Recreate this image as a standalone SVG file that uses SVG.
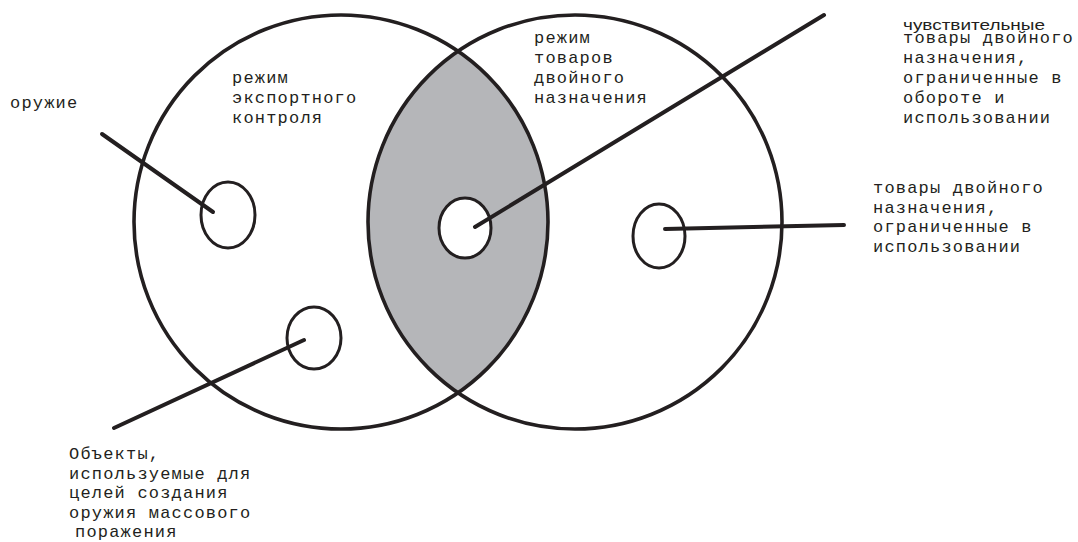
<svg xmlns="http://www.w3.org/2000/svg" width="1078" height="542" viewBox="0 0 1078 542">
<style>
.big{fill:none;stroke:#231f20;stroke-width:3.6}
.small{fill:#ffffff;stroke:#231f20;stroke-width:3}
.lens{fill:#b5b6b9;stroke:none}
.conn{stroke:#231f20;stroke-width:4;stroke-linecap:round;fill:none}
.t{font-family:"Liberation Mono","DejaVu Sans Mono",monospace;font-size:17px;letter-spacing:1.2px;fill:#231f20}
.t2{font-family:"Liberation Sans","DejaVu Sans",sans-serif;font-size:15px;fill:#231f20}
</style>
<rect width="1078" height="542" fill="#ffffff"/>
<g id="lens"><path class="lens" d="M458,51 A207,207 0 0 1 458,393 A207,207 0 0 1 458,51 Z"/></g>
<g id="export-control"><circle class="big" cx="341" cy="222" r="207"/>
<text class="t" x="232" y="83">режим</text><text class="t" x="232" y="103">экспортного</text><text class="t" x="232" y="123">контроля</text></g>
<g id="dual-use"><circle class="big" cx="575" cy="222" r="207"/>
<text class="t" x="534" y="43">режим</text><text class="t" x="534" y="63">товаров</text><text class="t" x="534" y="83">двойного</text><text class="t" x="534" y="103">назначения</text></g>
<g id="weapons"><ellipse class="small" cx="228" cy="215" rx="27" ry="33"/>
<text class="t" x="10" y="108">оружие</text></g>
<g id="sensitive"><ellipse class="small" cx="465" cy="228" rx="26" ry="30"/>
<text class="t2" x="903" y="30" textLength="142" lengthAdjust="spacingAndGlyphs">чувствительные</text>
<text class="t" x="903" y="43">товары двойного</text><text class="t" x="903" y="63">назначения,</text><text class="t" x="903" y="83">ограниченные в</text><text class="t" x="903" y="103">обороте и</text><text class="t" x="903" y="123">использовании</text></g>
<g id="restricted-use"><ellipse class="small" cx="659" cy="236" rx="26" ry="32"/>
<text class="t" x="873" y="193">товары двойного</text><text class="t" x="873" y="212.5">назначения,</text><text class="t" x="873" y="232">ограниченные в</text><text class="t" x="873" y="251.5">использовании</text></g>
<g id="wmd"><ellipse class="small" cx="314" cy="338" rx="27" ry="31"/>
<text class="t" x="69" y="459">Объекты,</text><text class="t" x="69" y="478.5">используемые для</text><text class="t" x="69" y="498">целей создания</text><text class="t" x="69" y="517.5">оружия массового</text><text class="t" x="75" y="537">поражения</text></g>
<g id="connectors">
<line class="conn" x1="102" y1="134" x2="213" y2="212"/>
<line class="conn" x1="475" y1="227" x2="824" y2="15"/>
<line class="conn" x1="665" y1="229" x2="844" y2="225"/>
<line class="conn" x1="304" y1="340" x2="114" y2="428"/>
</g>
</svg>
